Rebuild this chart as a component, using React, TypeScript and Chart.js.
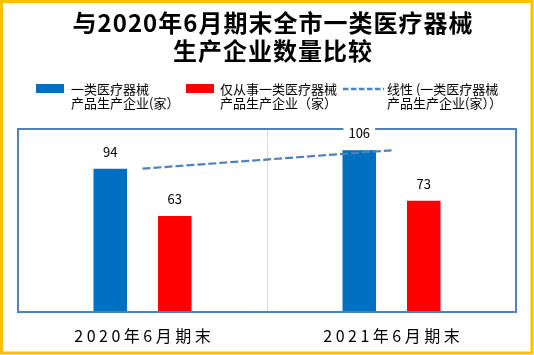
import React, { useEffect, useRef } from "react";
import { Chart, registerables } from "chart.js";

Chart.register(...registerables);

const titleLines = ["与2020年6月期末全市一类医疗器械", "生产企业数量比较"];
const categories = ["2020年6月期末", "2021年6月期末"];
const allFirstClass = [94, 106];
const onlyFirstClass = [63, 73];
const trendValues = [94, 106];
const legendBlue = ["一类医疗器械", "产品生产企业(家）"];
const legendRed = ["仅从事一类医疗器械", "产品生产企业（家）"];
const legendTrend = ["线性 (一类医疗器械", "产品生产企业(家））"];
const yMin = 0;
const yMax = 120;

const FONT = '"Noto Sans CJK SC", "Noto Sans", sans-serif';
const BLUE = "#0070C0";
const RED = "#FF0000";
const FRAME = "#4F81BD";
const TREND = "#4F81BD";
const YELLOW = "#FFC000";

const decor = {
  id: "decor",
  beforeDraw(chart: any) {
    const ctx = chart.ctx;
    const { left, right, top, bottom } = chart.chartArea;
    ctx.save();
    ctx.fillStyle = "#fff";
    ctx.fillRect(0, 0, chart.width, chart.height);
    const xs = chart.scales.x;
    ctx.strokeStyle = "#D9D9D9";
    ctx.lineWidth = 1;
    for (let i = 1; i < categories.length; i++) {
      const x = Math.round((xs.getPixelForValue(i - 1) + xs.getPixelForValue(i)) / 2) + 0.5;
      ctx.beginPath();
      ctx.moveTo(x, top);
      ctx.lineTo(x, bottom);
      ctx.stroke();
    }
    ctx.restore();
  },
  afterDraw(chart: any) {
    const ctx = chart.ctx;
    const { left, right, top, bottom } = chart.chartArea;
    ctx.save();
    // plot frame
    ctx.strokeStyle = FRAME;
    ctx.lineWidth = 2;
    ctx.strokeRect(left, top, right - left, bottom - top);

    // data labels
    ctx.font = `13px ${FONT}`;
    ctx.textAlign = "center";
    ctx.textBaseline = "middle";
    [0, 1].forEach((dsIndex) => {
      const meta = chart.getDatasetMeta(dsIndex);
      const values = chart.data.datasets[dsIndex].data;
      meta.data.forEach((el: any, i: number) => {
        const txt = String(values[i]);
        const y = el.y - 17;
        const w = ctx.measureText(txt).width;
        if (y - 8 < top + 2) {
          ctx.fillStyle = "#fff";
          ctx.fillRect(el.x - w / 2 - 5, y - 8, w + 10, 16);
        }
        ctx.fillStyle = "#000";
        ctx.fillText(txt, el.x, y);
      });
    });

    // x category labels
    const xs = chart.scales.x;
    ctx.font = `16px ${FONT}`;
    (ctx as any).letterSpacing = "3.5px";
    ctx.fillStyle = "#000";
    categories.forEach((c, i) => {
      ctx.fillText(c, xs.getPixelForValue(i) + 1.75, 336);
    });
    (ctx as any).letterSpacing = "0px";

    // legend
    ctx.font = `13px ${FONT}`;
    ctx.textAlign = "left";
    ctx.fillStyle = BLUE;
    ctx.fillRect(36, 84, 28, 9);
    ctx.fillStyle = RED;
    ctx.fillRect(186, 84, 28, 9);
    ctx.strokeStyle = TREND;
    ctx.lineWidth = 2.5;
    ctx.setLineDash([5.5, 2.5]);
    ctx.beginPath();
    ctx.moveTo(343, 89);
    ctx.lineTo(384, 89);
    ctx.stroke();
    ctx.setLineDash([]);
    ctx.fillStyle = "#000";
    const drawLegText = (lines: string[], x: number) => {
      ctx.fillText(lines[0], x, 89);
      ctx.fillText(lines[1], x, 103.5);
    };
    drawLegText(legendBlue, 71);
    drawLegText(legendRed, 220);
    drawLegText(legendTrend, 387);

    // title
    ctx.font = `bold 24px ${FONT}`;
    ctx.textAlign = "center";
    (ctx as any).letterSpacing = "1px";
    ctx.fillText(titleLines[0], 273, 22.5);
    ctx.fillText(titleLines[1], 273, 51);
    (ctx as any).letterSpacing = "0px";

    // outer border
    ctx.strokeStyle = YELLOW;
    ctx.lineWidth = 3;
    ctx.strokeRect(1.5, 1.5, 530.5, 351.5);
    ctx.restore();
  },
};

export default function App() {
  const ref = useRef<HTMLCanvasElement | null>(null);
  useEffect(() => {
    if (!ref.current) return;
    const chart = new Chart(ref.current, {
      type: "bar",
      data: {
        labels: categories,
        datasets: [
          {
            type: "bar",
            label: legendBlue.join(""),
            data: allFirstClass,
            backgroundColor: BLUE,
            categoryPercentage: 0.518,
            barPercentage: 0.52,
            order: 0,
          },
          {
            type: "bar",
            label: legendRed.join(""),
            data: onlyFirstClass,
            backgroundColor: RED,
            categoryPercentage: 0.518,
            barPercentage: 0.52,
            order: 0,
          },
          {
            type: "line",
            label: legendTrend.join(""),
            data: trendValues,
            borderColor: TREND,
            borderWidth: 2.2,
            borderDash: [8, 3],
            pointRadius: 0,
            fill: false,
            order: -1,
          } as any,
        ],
      },
      options: {
        responsive: false,
        animation: false,
        devicePixelRatio: 1,
        layout: { padding: { left: 18, right: 18, top: 129, bottom: 43 } },
        plugins: {
          legend: { display: false },
          title: { display: false },
          tooltip: { enabled: false },
        },
        scales: {
          x: { display: false },
          y: { display: false, min: yMin, max: yMax },
        },
      },
      plugins: [decor],
    });
    return () => chart.destroy();
  }, []);
  return (
    <div style={{ position: "absolute", left: 0, top: 0, width: 534, height: 355 }}>
      <canvas ref={ref} width={534} height={355} style={{ display: "block" }} />
    </div>
  );
}
